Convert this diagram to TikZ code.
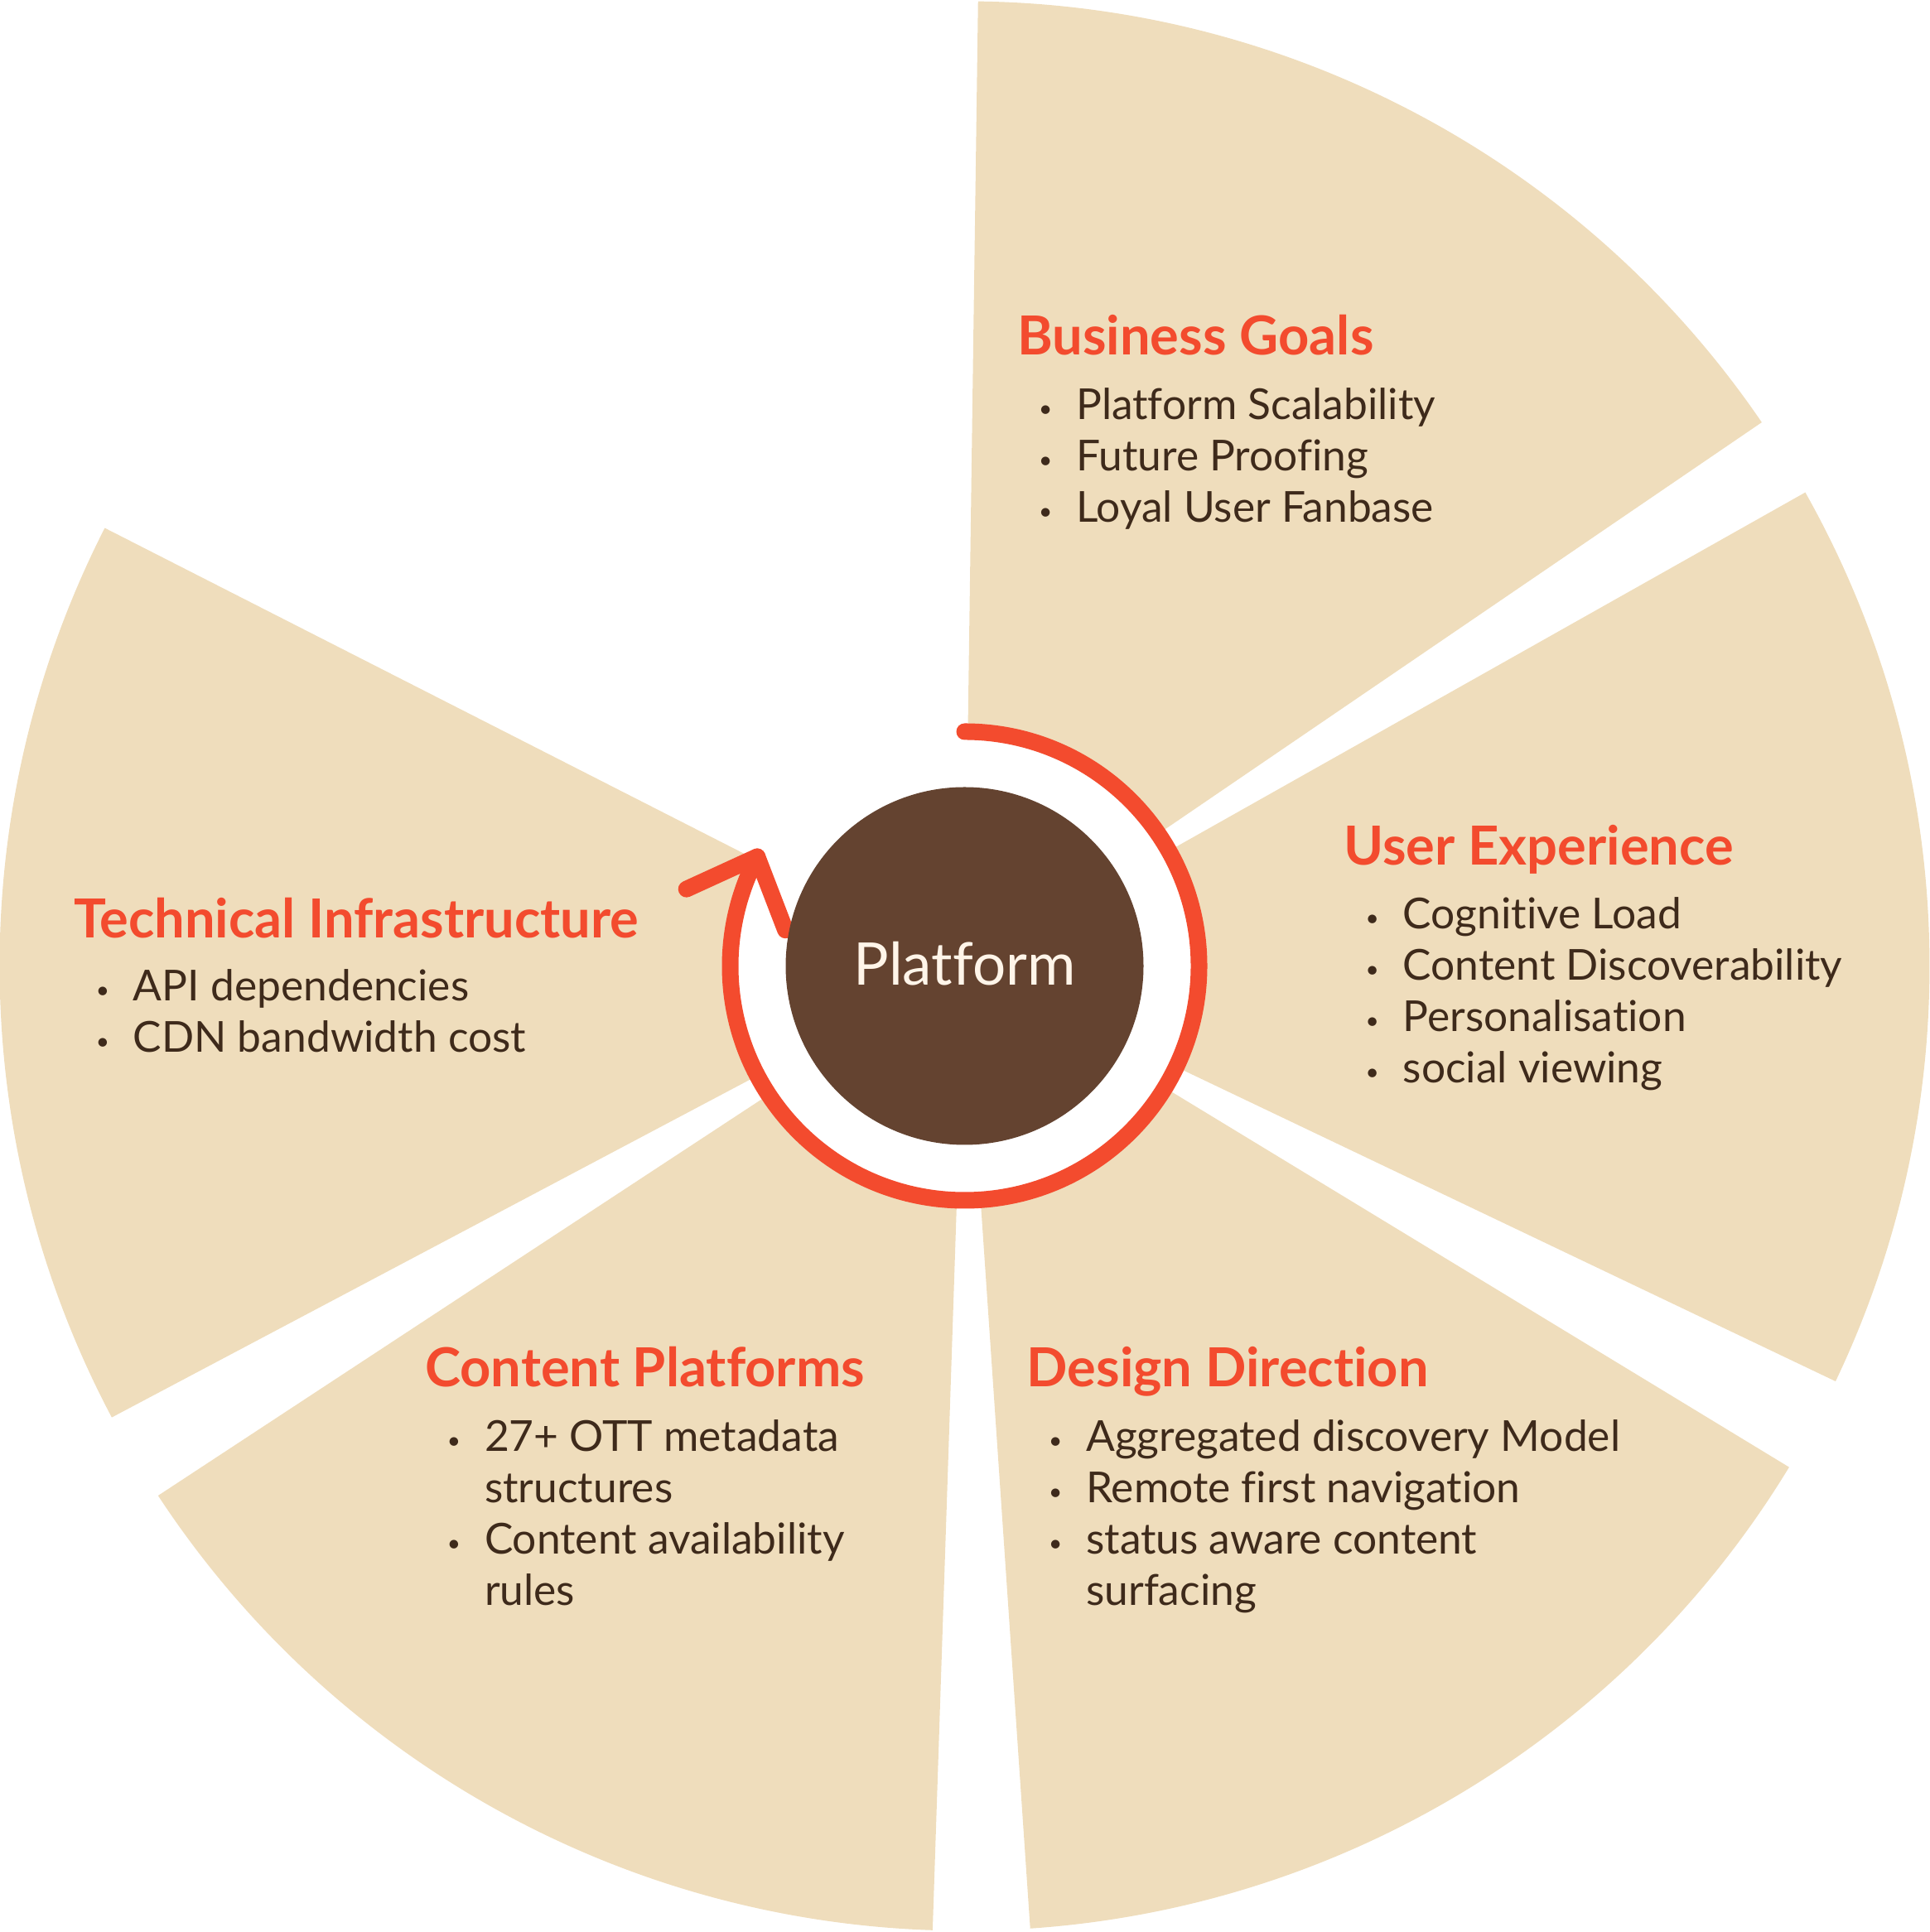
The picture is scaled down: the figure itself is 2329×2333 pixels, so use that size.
\documentclass[tikz,border=0pt]{standalone}
\usepackage{fontspec}
\setmainfont{Lato}[Ligatures=NoCommon]
\usepackage{array}
\definecolor{beige}{HTML}{EFDDBC}
\definecolor{accent}{HTML}{F34B2E}
\definecolor{core}{HTML}{644330}
\definecolor{txt}{HTML}{3E2A1B}
\definecolor{cream}{HTML}{FFF5E9}
\newcommand\blt{\makebox[24pt][c]{\fontsize{28}{28}\selectfont\raisebox{3pt}{\textbullet}}}
\tikzset{
  sector/.style={fill=beige},
  ringline/.style={draw=accent, line width=20pt, line cap=round, line join=round},
  titletext/.style={anchor=base west, inner sep=0pt, text=accent, font=\fontsize{65}{78}\selectfont\bfseries},
  itemtext/.style={anchor=base west, inner sep=0pt, text=txt, font=\fontsize{51.5}{62}\selectfont},
}
\begin{document}
\begin{tikzpicture}[x=1pt,y=1pt]
\useasboundingbox (0,0) rectangle (2329,2333);
\coordinate (c) at (1164.5,1166.5);
\def\R{1165}
\foreach \a/\b in {34.3/89.2, -25.5/29.4, -86.1/-31.3, 213.3/268.1, 153.0/207.9}{
  \fill[sector] (c) -- ++(\a:\R) arc[start angle=\a, end angle=\b, radius=\R] -- cycle;
}
\fill[white] (c) circle[radius=290];
\draw[ringline] (c) ++(90:283) arc[start angle=90, end angle=-207.8, radius=283] coordinate (tip);
\draw[ringline] (tip) ++(204.6:94) -- (tip) -- ++(291:95);
\node[circle, fill=core, minimum size=432pt, inner sep=0pt] (core) at (c) {};
\node[anchor=base, inner sep=0pt, text=cream, font=\fontsize{71}{80}\selectfont] (plat) at (1164.5,1143) {Platform};

\node[titletext] (bgT) at (1228,1904) {Business Goals};
\node[itemtext] (bgL) at (1250,1826) {\begin{tabular}[t]{@{}l@{\hspace{25pt}}l@{}}\blt & Platform Scalability\\ \blt & Future Proofing\\ \blt & Loyal User Fanbase\end{tabular}};

\node[titletext] (uxT) at (1622,1288) {User Experience};
\node[itemtext] (uxL) at (1644.5,1211) {\begin{tabular}[t]{@{}l@{\hspace{25pt}}l@{}}\blt & Cognitive Load\\ \blt & Content Discoverability\\ \blt & Personalisation\\ \blt & social viewing\end{tabular}};

\node[titletext] (tiT) at (89,1200) {Technical Infrastructure};
\node[itemtext] (tiL) at (111.7,1124) {\begin{tabular}[t]{@{}l@{\hspace{25pt}}l@{}}\blt & API dependencies\\ \blt & CDN bandwidth cost\end{tabular}};

\node[titletext] (cpT) at (513,658) {Content Platforms};
\node[itemtext] (cpL) at (535.8,580.5) {\begin{tabular}[t]{@{}l@{\hspace{25pt}}l@{}}\blt & 27+ OTT metadata\\ & structures\\ \blt & Content availability\\ & rules\end{tabular}};

\node[titletext] (ddT) at (1239.5,658) {Design Direction};
\node[itemtext] (ddL) at (1262,580.5) {\begin{tabular}[t]{@{}l@{\hspace{25pt}}l@{}}\blt & Aggregated discovery Model\\ \blt & Remote first navigation\\ \blt & status aware content\\ & surfacing\end{tabular}};
\end{tikzpicture}
\end{document}
